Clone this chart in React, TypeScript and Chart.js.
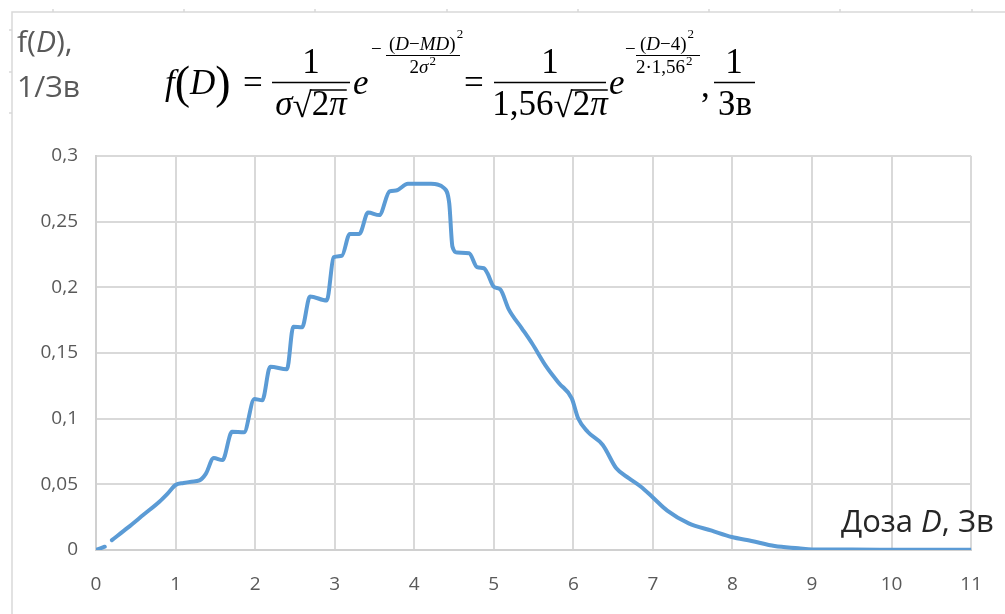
import React, { useEffect, useRef } from "react";
import { Chart, registerables } from "chart.js";

Chart.register(...registerables);

// Dose D, Sv (x values of the plotted curve)
const doses: number[] = [
  0, 0.11, 0.15, 0.2, 0.4, 0.6, 0.8, 0.9, 1.0, 1.1, 1.2, 1.3, 1.38, 1.48, 1.59,
  1.71, 1.86, 1.99, 2.09, 2.19, 2.4, 2.48, 2.59, 2.69, 2.9, 2.99, 3.09, 3.19,
  3.31, 3.42, 3.56, 3.69, 3.77, 3.92, 4.05, 4.21, 4.375, 4.44, 4.48, 4.54, 4.69,
  4.79, 4.875, 4.92, 5.0, 5.08, 5.19, 5.35, 5.48, 5.66, 5.82, 5.98, 6.06, 6.18,
  6.37, 6.54, 6.7, 6.85, 7.0, 7.18, 7.45, 7.74, 7.99, 8.24, 8.53, 8.83, 9.0,
  9.5, 10, 10.5, 11,
];

// f(D), 1/Sv (null marks the small break near the origin)
const fD: (number | null)[] = [
  0, 0.0025, null, 0.0075, 0.017, 0.027, 0.037, 0.043, 0.0495, 0.051, 0.052,
  0.053, 0.058, 0.07, 0.0685, 0.09, 0.0896, 0.115, 0.114, 0.1396, 0.1376, 0.17,
  0.1696, 0.193, 0.19, 0.223, 0.224, 0.2407, 0.2407, 0.257, 0.255, 0.273,
  0.2737, 0.2788, 0.2788, 0.2788, 0.2755, 0.264, 0.231, 0.2265, 0.226, 0.2153,
  0.2145, 0.2107, 0.2005, 0.1985, 0.183, 0.169, 0.1574, 0.1396, 0.127, 0.1155,
  0.1003, 0.09, 0.08, 0.0622, 0.0546, 0.0482, 0.04, 0.03, 0.0203, 0.0147,
  0.0099, 0.0069, 0.003, 0.0013, 0.0004, 0.0003, 0.0002, 0.0001, 0.0001,
];

const xMin = 0;
const xMax = 11;
const xStep = 1;
const yMin = 0;
const yMax = 0.3;
const yStep = 0.05;

const yAxisTitle1 = ["f(", "D", "),"];
const yAxisTitle2 = "1/Зв";
const xAxisTitle = ["Доза ", "D", ", Зв"];

const SERIF = '"Liberation Serif", "Times New Roman", serif';
const SANS = '"Open Sans", "DejaVu Sans", sans-serif';

type Part = [string, string, number?];

function seqWidth(ctx: CanvasRenderingContext2D, parts: Part[]) {
  let w = 0;
  for (const p of parts) {
    ctx.font = p[1];
    w += ctx.measureText(p[0]).width;
  }
  return w;
}

function drawSeq(ctx: CanvasRenderingContext2D, parts: Part[], x: number, y: number) {
  let cx = x;
  for (const p of parts) {
    ctx.font = p[1];
    ctx.fillText(p[0], cx, y + (p[2] || 0));
    cx += ctx.measureText(p[0]).width;
  }
  return cx;
}

function hline(ctx: CanvasRenderingContext2D, x1: number, x2: number, y: number, w = 1.4) {
  ctx.beginPath();
  ctx.lineWidth = w;
  ctx.moveTo(x1, y);
  ctx.lineTo(x2, y);
  ctx.stroke();
}

const decorPlugin = {
  id: "decor",
  afterDraw(chart: any) {
    const ctx: CanvasRenderingContext2D = chart.ctx;
    ctx.save();
    // outer frame remnants
    ctx.strokeStyle = "#d9d9d9";
    ctx.lineWidth = 1.5;
    ctx.beginPath();
    ctx.moveTo(12, 614);
    ctx.lineTo(12, 12);
    ctx.lineTo(1005, 12);
    ctx.stroke();
    ctx.beginPath();
    for (const tx of [53, 184, 315, 447, 578, 709, 840, 972]) {
      ctx.moveTo(tx, 12);
      ctx.lineTo(tx, 9);
    }
    for (const ty of [30, 72, 113]) {
      ctx.moveTo(12, ty);
      ctx.lineTo(9, ty);
    }
    ctx.stroke();

    ctx.textBaseline = "alphabetic";
    ctx.textAlign = "left";

    // y-axis title
    ctx.fillStyle = "#595959";
    drawSeq(
      ctx,
      [
        [yAxisTitle1[0], `30px ${SANS}`],
        [yAxisTitle1[1], `italic 30px ${SANS}`],
        [yAxisTitle1[2], `30px ${SANS}`],
      ],
      17,
      52
    );
    ctx.font = `30px ${SANS}`;
    ctx.fillText(yAxisTitle2, 17, 97);

    // x-axis title
    ctx.fillStyle = "#262626";
    drawSeq(
      ctx,
      [
        [xAxisTitle[0], `31px ${SANS}`],
        [xAxisTitle[1], `italic 31px ${SANS}`],
        [xAxisTitle[2], `31px ${SANS}`],
      ],
      841,
      532
    );

    // formula
    ctx.fillStyle = "#000";
    ctx.strokeStyle = "#000";
    const B = `35px ${SERIF}`;
    const BI = `italic 35px ${SERIF}`;
    const P = `46px ${SERIF}`;
    const S = `19px ${SERIF}`;
    const SI = `italic 19px ${SERIF}`;
    const SUP = `13px ${SERIF}`;

    // f(D) =
    drawSeq(ctx, [["f", BI], ["(", P, 4], ["D", BI], [")", P, 4]], 165, 94);
    ctx.font = B;
    ctx.fillText("=", 243, 94);

    const centered = (parts: Part[], cx: number, y: number) => {
      const w = seqWidth(ctx, parts);
      return drawSeq(ctx, parts, cx - w / 2, y);
    };
    const radical = (pre: Part[], cx: number, y: number) => {
      const parts: Part[] = [...pre, ["√", B], ["2", B], ["π", BI]];
      const w = seqWidth(ctx, parts);
      let x = cx - w / 2;
      x = drawSeq(ctx, pre, x, y);
      ctx.font = B;
      ctx.fillText("√", x, y + 2);
      x += ctx.measureText("√").width;
      const x0 = x;
      x = drawSeq(ctx, [["2", B], ["π", BI]], x, y);
      hline(ctx, x0 - 2, x, y - 25, 1.5);
    };

    // first fraction 1/(σ√2π)
    centered([["1", B]], 311, 73);
    hline(ctx, 272, 350, 82.5, 1.6);
    radical([["σ", BI]], 311, 115);
    ctx.font = BI;
    ctx.fillText("e", 353, 94);
    // exponent 1
    ctx.font = S;
    ctx.fillText("−", 371, 55);
    let ex = drawSeq(ctx, [["(", S], ["D", SI], ["−", S], ["MD", SI], [")", S]], 389, 50);
    drawSeq(ctx, [["2", SUP]], ex + 1, 38);
    hline(ctx, 386, 460, 55.5, 1.1);
    ex = centered([["2", S], ["σ", SI]], 419, 73);
    drawSeq(ctx, [["2", SUP]], ex + 1, 65);

    ctx.font = B;
    ctx.fillText("=", 464, 94);

    // second fraction 1/(1,56√2π)
    centered([["1", B]], 550, 73);
    hline(ctx, 494, 606, 82.5, 1.6);
    radical([["1,56", B]], 550, 115);
    ctx.font = BI;
    ctx.fillText("e", 609, 94);
    // exponent 2
    ctx.font = S;
    ctx.fillText("−", 625, 55);
    ex = drawSeq(ctx, [["(", S], ["D", SI], ["−4", S], [")", S]], 640, 50);
    drawSeq(ctx, [["2", SUP]], ex + 1, 38);
    hline(ctx, 636, 700, 55.5, 1.1);
    ex = drawSeq(ctx, [["2·1,56", S]], 636, 73);
    drawSeq(ctx, [["2", SUP]], ex + 1, 65);

    ctx.font = B;
    ctx.fillText(",", 701, 97);

    // unit fraction 1/Зв
    centered([["1", B]], 734, 73);
    hline(ctx, 714, 755, 82.5, 1.6);
    centered([["Зв", B]], 735, 115);

    ctx.restore();
  },
};

export default function App() {
  const ref = useRef<HTMLCanvasElement | null>(null);

  useEffect(() => {
    if (!ref.current) return;
    const points = doses.map((d, i) => ({ x: d, y: fD[i] }));
    const chart = new Chart(ref.current, {
      type: "line",
      data: {
        datasets: [
          {
            data: points as any,
            borderColor: "#5b9bd5",
            borderWidth: 4,
            pointRadius: 0,
            cubicInterpolationMode: "monotone",
            spanGaps: false,
            borderCapStyle: "round",
            borderJoinStyle: "round",
            fill: false,
          },
        ],
      },
      options: {
        animation: false,
        responsive: false,
        devicePixelRatio: 1,
        layout: { padding: { left: 0, top: 156, right: 27, bottom: 0 } },
        plugins: { legend: { display: false }, tooltip: { enabled: false } },
        scales: {
          x: {
            type: "linear",
            min: xMin,
            max: xMax,
            afterFit: (s: any) => {
              s.height = 64;
            },
            grid: { color: "#d9d9d9", lineWidth: 2, drawTicks: false },
            border: { color: "#d0d0d0", width: 2 },
            ticks: {
              stepSize: xStep,
              color: "#595959",
              font: { family: SANS, size: 19 },
              padding: 23,
              maxRotation: 0,
            },
          },
          y: {
            type: "linear",
            min: yMin,
            max: yMax,
            afterFit: (s: any) => {
              s.width = 96;
            },
            grid: { color: "#d9d9d9", lineWidth: 2, drawTicks: false },
            border: { color: "#d0d0d0", width: 2 },
            ticks: {
              stepSize: yStep,
              color: "#595959",
              font: { family: SANS, size: 19 },
              padding: 18,
              callback: (v: any) => String(Math.round(Number(v) * 100) / 100).replace(".", ","),
            },
          },
        },
      },
      plugins: [decorPlugin],
    });
    return () => chart.destroy();
  }, []);

  return (
    <div style={{ position: "fixed", left: 0, top: 0, width: 1005, height: 614, background: "#fff" }}>
      <canvas ref={ref} width={1005} height={614} style={{ display: "block", width: 1005, height: 614 }} />
    </div>
  );
}
